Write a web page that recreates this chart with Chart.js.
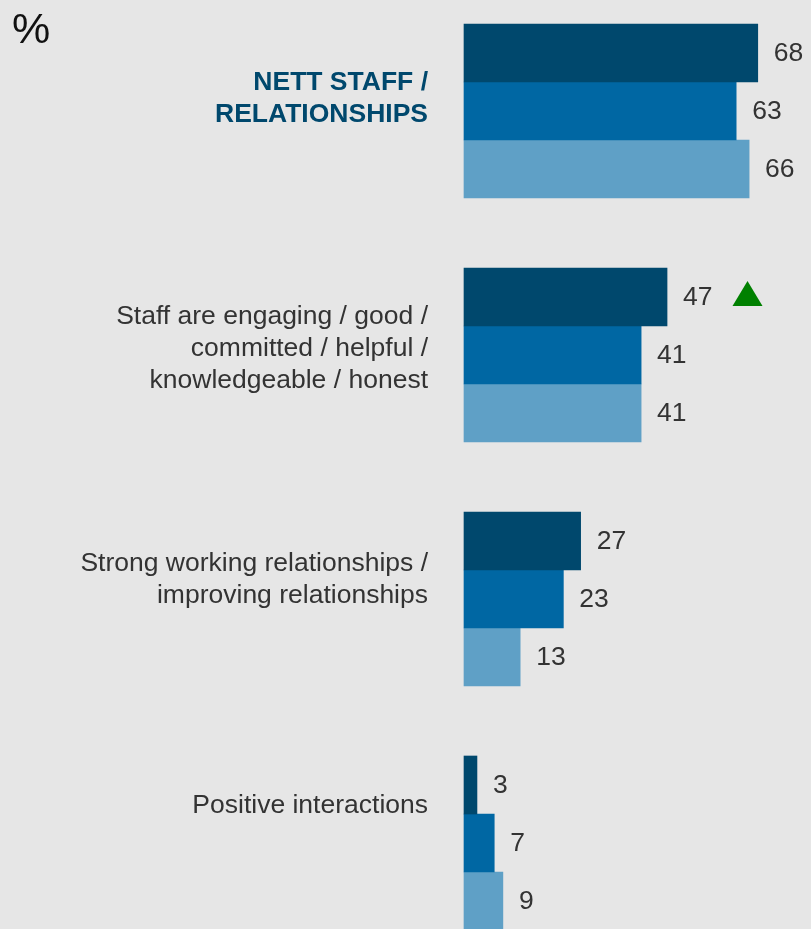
<!DOCTYPE html>
<html>
<head>
<meta charset="utf-8">
<script src="https://cdn.jsdelivr.net/npm/chart.js@4/dist/chart.umd.min.js"></script>
<style>
  html, body { margin: 0; padding: 0; background: #e6e6e6; overflow: hidden; }
  #wrap { position: relative; width: 811px; height: 929px; }
  #unit { position: absolute; left: 12px; top: 4px; font: 43px 'Liberation Sans', Arial, sans-serif; color: #111; }
</style>
</head>
<body>
<div id="wrap">
  <canvas id="chart"></canvas>
  <div id="unit">%</div>
</div>
<script>
const categories = [
    ['NETT STAFF /', 'RELATIONSHIPS'],
    ['Staff are engaging / good /', 'committed / helpful /', 'knowledgeable / honest'],
    ['Strong working relationships /', 'improving relationships'],
    ['Positive interactions']
];
const latest = [68, 47, 27, 3];
const previous = [63, 41, 23, 7];
const earlier = [66, 41, 13, 9];
// significant rise in the latest wave
const sigUp = [false, true, false, false];

const FONT = "'Liberation Sans', Arial, sans-serif";
const TEXT = '#333333';
const NAVY = '#00486d';
// how far each category label sits above its bar group centre
const labelLift = [12, 6, 19, 37];

// value labels + significance arrow
const valueLabels = {
    id: 'valueLabels',
    afterDatasetsDraw(chart) {
        const ctx = chart.ctx;
        ctx.save();
        ctx.font = '26.5px ' + FONT;
        ctx.textAlign = 'left';
        ctx.textBaseline = 'middle';
        chart.data.datasets.forEach((ds, di) => {
            chart.getDatasetMeta(di).data.forEach((bar, i) => {
                const txt = String(ds.data[i]);
                const x = bar.x + 16;
                ctx.fillStyle = TEXT;
                ctx.fillText(txt, x, bar.y + 1);
                if (di === 0 && sigUp[i]) {
                    const left = x + ctx.measureText(txt).width + 20;
                    ctx.fillStyle = '#008000';
                    ctx.beginPath();
                    ctx.moveTo(left, bar.y + 9);
                    ctx.lineTo(left + 30, bar.y + 9);
                    ctx.lineTo(left + 15, bar.y - 16);
                    ctx.closePath();
                    ctx.fill();
                }
            });
        });
        ctx.restore();
    }
};

// category labels drawn to the left of the bars
const categoryLabels = {
    id: 'categoryLabels',
    afterDraw(chart) {
        const ctx = chart.ctx;
        const y = chart.scales.y;
        const right = chart.chartArea.left - 36;
        const lineH = 32;
        ctx.save();
        ctx.textAlign = 'right';
        ctx.textBaseline = 'middle';
        categories.forEach((lines, i) => {
            ctx.font = (i === 0 ? 'bold ' : '') + '26.5px ' + FONT;
            ctx.fillStyle = i === 0 ? NAVY : TEXT;
            const mid = y.getPixelForTick(i) - labelLift[i];
            const top = mid - (lines.length - 1) * lineH / 2;
            lines.forEach((ln, k) => ctx.fillText(ln, right, top + k * lineH));
        });
        ctx.restore();
    }
};

new Chart(document.getElementById('chart'), {
    type: 'bar',
    data: {
        labels: categories,
        datasets: [
            { label: 'Latest', data: latest, backgroundColor: '#00486d' },
            { label: 'Previous', data: previous, backgroundColor: '#0067a3' },
            { label: 'Earlier', data: earlier, backgroundColor: '#5fa0c6' }
        ]
    },
    options: {
        indexAxis: 'y',
        responsive: true,
        maintainAspectRatio: false,
        animation: false,
        layout: { padding: { left: 464, right: 1.4, top: 111, bottom: 86 } },
        datasets: { bar: { barThickness: 58, clip: false, borderWidth: 0 } },
        scales: {
            x: { display: false, min: 0, max: 80 },
            y: { display: false, offset: false }
        },
        plugins: {
            legend: { display: false },
            tooltip: { enabled: false }
        }
    },
    plugins: [valueLabels, categoryLabels]
});
</script>
</body>
</html>
